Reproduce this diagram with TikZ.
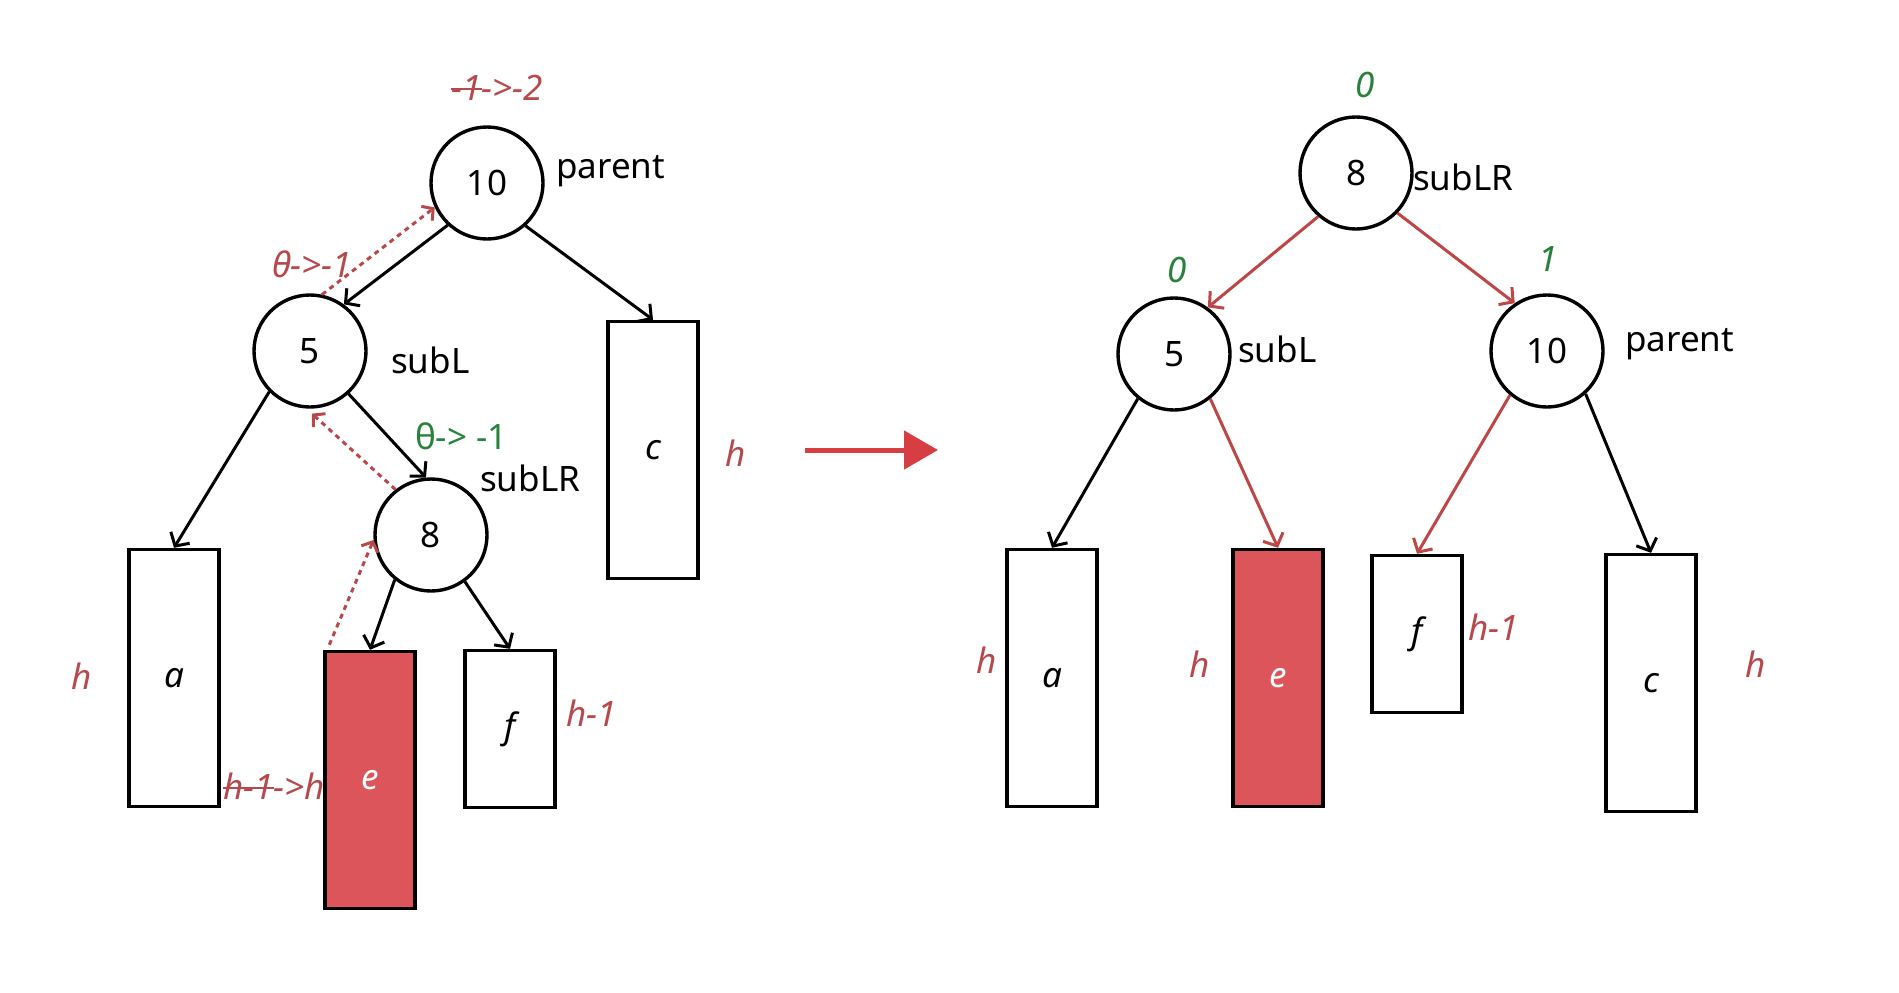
\documentclass[tikz,border=0pt]{standalone}
\usepackage{fontspec}
\setmainfont{Noto Sans}
\newsavebox\strkbox
\newcommand\strk[1]{\sbox\strkbox{#1}\rlap{\rule[0.3em]{\wd\strkbox}{2.2pt}}\usebox\strkbox}
\usetikzlibrary{arrows.meta}
\definecolor{lbl}{RGB}{183,72,76}
\definecolor{grn}{RGB}{40,130,60}
\definecolor{efill}{RGB}{219,85,90}
\definecolor{redln}{RGB}{190,70,70}
\definecolor{bigarr}{RGB}{214,62,68}
\begin{document}
\begin{tikzpicture}[x=1pt,y=-1pt,
 font=\fontsize{35}{42}\selectfont,
 circ/.style={circle,draw,line width=3.4pt,minimum size=112pt,inner sep=0pt},
 sbox/.style={draw,line width=3.4pt,minimum width=90pt,inner sep=0pt,font=\fontsize{35}{42}\selectfont\itshape},
 tall/.style={sbox,minimum height=257pt},
 short/.style={sbox,minimum height=157pt},
 redbox/.style={fill=efill,text=white},
 edge/.style={line width=3pt,-{Straight Barb[length=10pt,width=22pt,line width=3pt]}},
 redge/.style={edge,draw=redln},
 dotarr/.style={draw=lbl,line width=3pt,dash pattern=on 5pt off 4.5pt,-{Straight Barb[length=8pt,width=18pt,line width=3pt]}},
 rl/.style={text=lbl,font=\fontsize{35}{42}\selectfont\itshape,inner sep=0pt},
 gl/.style={text=grn,font=\fontsize{35}{42}\selectfont\bfseries,inner sep=0pt},
 gli/.style={text=grn,font=\fontsize{35}{42}\selectfont\bfseries\itshape,inner sep=0pt},
 tl/.style={text=black,inner sep=0pt}
]
\fill[white] (0,0) rectangle (1899,993);
\useasboundingbox (0,0) rectangle (1899,993);

% ---------- left tree ----------
\node[circ] (n10) at (487,183) {10};
\node[circ] (n5) at (310,351) {5};
\node[circ] (n8) at (431,535) {8};
\node[tall] (c1) at (653,450) {c};
\node[tall] (a1) at (174,678) {a};
\node[tall,redbox] (e1) at (370,780) {e};
\node[short] (f1) at (510,729) {f};

\node[rl] (t1) at (497,88) {\strk{-1}->-2};
\node[tl,anchor=west] (t2) at (556,171) {parent};
\node[rl] (t3) at (312,264) {θ->-1};
\node[tl,anchor=west] (t4) at (391,360) {subL};
\node[gl,anchor=west] (t5) at (415,436) {θ-> -1};
\node[tl,anchor=west] (t6) at (480,478) {subLR};
\node[rl] (t7) at (736,453) {h};
\node[rl] (t8) at (82,676) {h};
\node[rl] (t9) at (274,786) {\strk{h-1}->h};
\node[rl,anchor=west] (t10) at (566,713) {h-1};

\draw[edge] (n10.-133) -- (n5.54);
\draw[edge] (n10.-48) -- (c1.north);
\draw[edge] (n5.-135) -- (a1.north);
\draw[edge] (n5.-48) -- (n8.95);
\draw[edge] (n8.-129) -- (e1.north);
\draw[edge] (n8.-54) -- (f1.north);

\draw[dotarr] ([xshift=6pt,yshift=5pt]e1.north west) -- (n8.185);
\draw[dotarr] (n8.128) -- ([yshift=-5pt]n5.-88);
\draw[dotarr] (n5.78) -- (n10.205);

% ---------- arrow ----------
\coordinate (p) at (805,450);
\coordinate (q) at (938,450);
\draw[bigarr,line width=5pt,-{Triangle[length=34pt,width=38pt]}] (p) -- (q);

% ---------- right tree ----------
\node[circ] (m8) at (1356,173) {8};
\node[circ] (m5) at (1174,354) {5};
\node[circ] (m10) at (1547,351) {10};
\node[tall] (a2) at (1052,678) {a};
\node[tall,redbox] (e2) at (1278,678) {e};
\node[short] (f2) at (1417,634) {f};
\node[tall] (c2) at (1651,683) {c};

\node[gli] (u1) at (1365,85) {0};
\node[tl,anchor=west] (u2) at (1413,177) {subLR};
\node[gli] (u3) at (1177,270) {0};
\node[tl,anchor=west] (u4) at (1238,349) {subL};
\node[gli] (u5) at (1548,259) {1};
\node[tl,anchor=west] (u6) at (1625,344) {parent};
\node[rl] (u7) at (987,660) {h};
\node[rl] (u8) at (1200,664) {h};
\node[rl,anchor=west] (u9) at (1468,627) {h-1};
\node[rl] (u10) at (1756,664) {h};

\draw[redge] (m8.-131) -- (m5.54);
\draw[redge] (m8.-44) -- (m10.124);
\draw[edge] (m5.-129) -- (a2.north);
\draw[redge] (m5.-51) -- (e2.north);
\draw[redge] (m10.-130) -- (f2.north);
\draw[edge] (m10.-48) -- (c2.north);
\end{tikzpicture}
\end{document}
